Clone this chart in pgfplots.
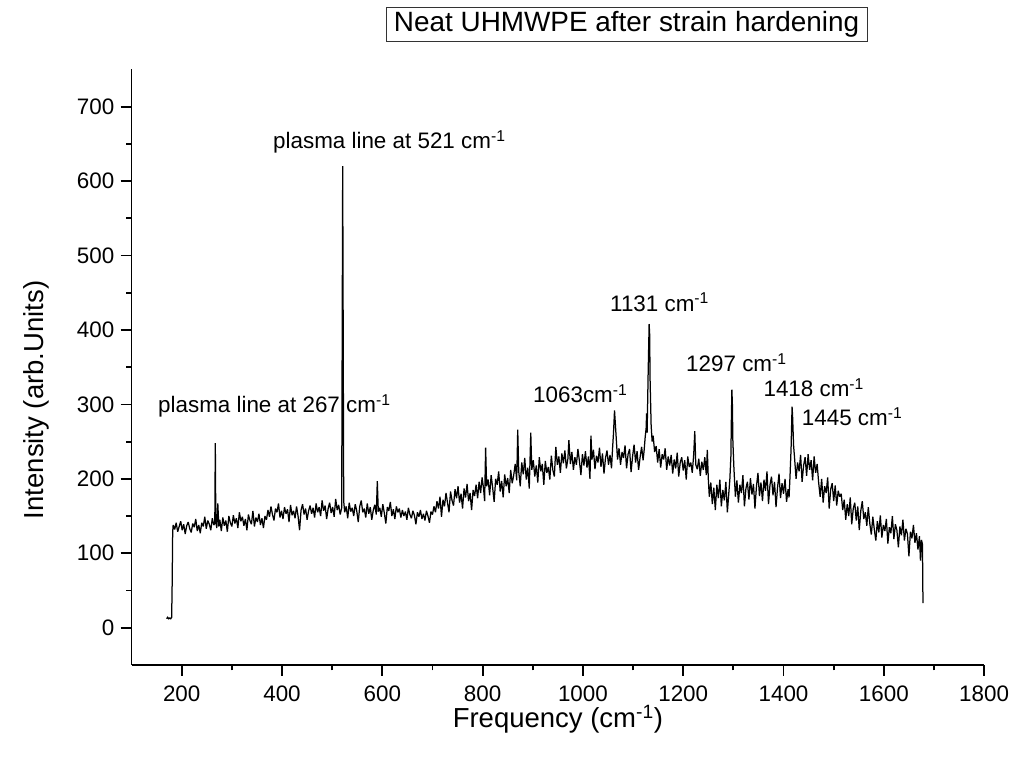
\documentclass[border=0pt]{standalone}
\usepackage{pgfplots}
\pgfplotsset{compat=1.18}
\usepackage{fontspec}
\setmainfont{Liberation Sans}
\begin{document}
\begin{tikzpicture}
\begin{axis}[
  at={(0,0)}, anchor=south west,
  scale only axis, width=852.6bp, height=595.4bp,
  xmin=100, xmax=1800, ymin=-50, ymax=750,
  axis x line*=bottom, axis y line*=left,
  axis line style={-, line width=1.8bp},
  xtick={200,400,...,1800}, ytick={0,100,...,700},
  minor x tick num=1, minor y tick num=1,
  tick align=outside,
  major tick length=11bp, minor tick length=5.5bp,
  every tick/.style={black, line width=1.8bp},
  /pgf/number format/assume math mode=true,
  /pgf/number format/1000 sep={},
  ticklabel style={font=\fontsize{22.4bp}{25bp}\selectfont, inner sep=0pt},
  xticklabel style={anchor=base, yshift=-25.8bp},
  yticklabel style={anchor=east, xshift=-6bp},
  xlabel={Frequency (cm\textsuperscript{-1})},
  ylabel={Intensity (arb.Units)},
  label style={font=\fontsize{27.5bp}{30bp}\selectfont, inner sep=0pt},
  xlabel style={at={([yshift=-63bp]axis description cs:0.5,0)}, anchor=base},
  ylabel style={at={([xshift=-88.5bp]axis description cs:0,0.445)}, anchor=base},
  clip=false,
]
\addplot[black, line width=1.25bp, line join=miter, miter limit=2] table[row sep=\\] {
x y\\
170 12\\ 172 14\\ 174 12\\ 176 13\\ 178 12\\ 180 14\\ 181 60\\ 182 128\\
183 138\\ 186 132\\ 189 141\\ 192 129\\ 195 136\\ 198 143\\ 201 131\\ 204 139\\ 207 126\\ 210 137\\
213 142\\ 216 133\\ 219 128\\ 222 140\\ 225 135\\ 228 146\\ 231 130\\ 234 138\\ 237 127\\ 240 141\\
243 136\\ 246 149\\ 249 133\\ 252 144\\ 255 139\\ 258 131\\ 261 147\\ 264 138\\ 266 140\\ 267 248\\
268 142\\ 270 134\\ 272 167\\ 274 136\\ 276 145\\ 279 130\\ 282 148\\ 285 137\\ 288 144\\ 291 129\\
294 150\\ 297 141\\ 300 136\\ 303 151\\ 306 140\\ 309 147\\ 312 134\\ 315 155\\ 318 143\\ 321 149\\
324 137\\ 327 146\\ 330 131\\ 333 152\\ 336 144\\ 339 139\\ 342 157\\ 345 136\\ 348 148\\ 351 142\\
354 153\\ 357 138\\ 360 147\\ 363 134\\ 366 150\\ 369 145\\ 372 158\\ 375 149\\ 378 163\\ 381 152\\
384 144\\ 387 160\\ 390 155\\ 393 167\\ 396 148\\ 399 157\\ 402 146\\ 405 162\\ 408 153\\ 411 159\\
414 142\\ 417 165\\ 420 151\\ 423 157\\ 426 147\\ 429 163\\ 432 150\\ 435 131\\ 438 158\\ 441 166\\
444 152\\ 447 160\\ 450 145\\ 453 157\\ 456 164\\ 459 153\\ 462 161\\ 465 148\\ 468 167\\ 471 155\\
474 162\\ 477 150\\ 480 171\\ 483 157\\ 486 164\\ 489 146\\ 492 160\\ 495 168\\ 498 154\\ 501 162\\
504 149\\ 507 173\\ 510 158\\ 513 165\\ 516 152\\ 519 161\\ 521 620\\ 523 170\\ 525 155\\ 528 163\\
531 147\\ 534 168\\ 537 156\\ 540 161\\ 543 150\\ 546 166\\ 549 157\\ 552 142\\ 555 163\\ 558 171\\
561 155\\ 564 160\\ 567 148\\ 570 167\\ 573 153\\ 576 162\\ 579 145\\ 582 158\\ 585 165\\ 588 152\\
590 197\\ 592 156\\ 595 161\\ 598 149\\ 601 166\\ 604 154\\ 607 140\\ 610 162\\ 613 157\\ 616 169\\
619 150\\ 622 159\\ 625 146\\ 628 163\\ 631 155\\ 634 160\\ 637 148\\ 640 158\\ 643 150\\ 646 156\\
649 145\\ 652 161\\ 655 152\\ 658 147\\ 661 157\\ 664 151\\ 667 139\\ 670 155\\ 673 149\\ 676 158\\
679 146\\ 682 153\\ 685 144\\ 688 157\\ 691 150\\ 694 141\\ 697 156\\ 700 152\\ 703 163\\ 706 155\\
709 170\\ 712 160\\ 715 176\\ 718 149\\ 721 172\\ 724 163\\ 727 181\\ 730 168\\ 733 155\\ 736 183\\
739 171\\ 742 164\\ 745 186\\ 748 174\\ 751 190\\ 754 168\\ 757 180\\ 760 160\\ 763 187\\ 766 175\\
769 193\\ 772 170\\ 775 181\\ 778 158\\ 781 185\\ 784 177\\ 787 192\\ 790 174\\ 793 196\\ 796 181\\
799 202\\ 802 186\\ 804 170\\ 806 242\\ 808 190\\ 811 199\\ 814 178\\ 817 205\\ 820 188\\ 823 169\\
826 200\\ 829 192\\ 832 210\\ 835 183\\ 838 197\\ 841 175\\ 844 206\\ 847 190\\ 850 201\\ 853 181\\
856 212\\ 859 194\\ 862 205\\ 865 220\\ 868 198\\ 870 266\\ 872 210\\ 875 190\\ 878 222\\ 881 206\\
884 228\\ 887 199\\ 890 215\\ 893 187\\ 896 262\\ 898 212\\ 901 225\\ 904 203\\ 907 218\\ 910 195\\
913 229\\ 916 210\\ 919 220\\ 922 192\\ 925 224\\ 928 208\\ 931 216\\ 934 199\\ 937 231\\ 940 212\\
943 203\\ 946 243\\ 949 219\\ 952 230\\ 955 208\\ 958 234\\ 961 221\\ 964 238\\ 967 214\\ 970 227\\
972 252\\ 975 220\\ 978 236\\ 981 212\\ 984 229\\ 987 219\\ 990 240\\ 993 224\\ 996 205\\ 999 233\\
1002 218\\ 1005 237\\ 1008 215\\ 1011 230\\ 1014 200\\ 1016 258\\ 1018 226\\ 1021 239\\ 1024 213\\ 1027 231\\
1030 222\\ 1033 242\\ 1036 216\\ 1039 234\\ 1042 207\\ 1045 228\\ 1048 238\\ 1051 219\\ 1054 232\\ 1057 214\\
1059 240\\ 1061 262\\ 1063 292\\ 1065 270\\ 1067 248\\ 1069 226\\ 1072 241\\ 1075 219\\ 1078 236\\ 1081 228\\
1084 245\\ 1087 214\\ 1090 233\\ 1093 240\\ 1096 209\\ 1099 230\\ 1102 246\\ 1105 222\\ 1108 237\\ 1111 212\\
1114 229\\ 1117 243\\ 1120 225\\ 1122 238\\ 1124 255\\ 1126 268\\ 1127 288\\ 1128 262\\ 1130 340\\ 1132 408\\
1133 395\\ 1134 330\\ 1136 272\\ 1138 250\\ 1140 258\\ 1143 236\\ 1146 244\\ 1149 222\\ 1152 240\\ 1155 215\\
1158 233\\ 1161 226\\ 1164 241\\ 1167 212\\ 1170 230\\ 1173 218\\ 1176 232\\ 1179 207\\ 1182 226\\ 1185 214\\
1188 235\\ 1191 203\\ 1194 222\\ 1197 229\\ 1200 211\\ 1203 225\\ 1206 199\\ 1209 230\\ 1212 216\\ 1215 222\\
1218 208\\ 1221 234\\ 1223 264\\ 1225 219\\ 1228 213\\ 1231 227\\ 1234 204\\ 1237 223\\ 1240 212\\ 1243 229\\
1246 205\\ 1248 239\\ 1250 200\\ 1252 176\\ 1255 195\\ 1258 166\\ 1261 188\\ 1264 158\\ 1267 192\\ 1270 174\\
1273 199\\ 1276 163\\ 1279 185\\ 1282 171\\ 1285 196\\ 1288 155\\ 1291 182\\ 1293 200\\ 1295 230\\ 1296 280\\
1297 320\\ 1298 300\\ 1299 250\\ 1301 215\\ 1304 176\\ 1307 198\\ 1310 168\\ 1313 192\\ 1316 181\\ 1319 205\\
1322 163\\ 1325 187\\ 1328 196\\ 1331 172\\ 1334 201\\ 1337 179\\ 1340 193\\ 1343 160\\ 1346 190\\ 1349 208\\
1352 177\\ 1355 195\\ 1358 170\\ 1361 199\\ 1364 184\\ 1367 210\\ 1370 166\\ 1373 192\\ 1376 203\\ 1379 178\\
1382 196\\ 1385 162\\ 1388 188\\ 1391 207\\ 1394 174\\ 1397 194\\ 1400 180\\ 1403 200\\ 1406 169\\ 1409 186\\
1411 175\\ 1413 205\\ 1415 240\\ 1417 297\\ 1418 285\\ 1420 245\\ 1422 228\\ 1425 200\\ 1428 222\\ 1431 210\\
1434 232\\ 1437 196\\ 1440 218\\ 1443 229\\ 1446 204\\ 1449 233\\ 1452 212\\ 1455 225\\ 1458 198\\ 1461 230\\
1464 208\\ 1467 220\\ 1470 195\\ 1473 176\\ 1476 200\\ 1479 168\\ 1482 190\\ 1485 181\\ 1488 202\\ 1491 160\\
1494 186\\ 1497 194\\ 1500 170\\ 1503 191\\ 1506 164\\ 1509 184\\ 1512 176\\ 1515 180\\ 1518 158\\ 1521 172\\
1524 145\\ 1527 166\\ 1530 150\\ 1533 175\\ 1536 139\\ 1539 160\\ 1542 168\\ 1545 144\\ 1548 163\\ 1551 131\\
1554 157\\ 1557 170\\ 1560 146\\ 1563 155\\ 1566 137\\ 1569 162\\ 1572 140\\ 1575 125\\ 1578 149\\ 1581 132\\
1584 117\\ 1587 143\\ 1590 128\\ 1593 151\\ 1596 121\\ 1599 138\\ 1602 130\\ 1605 146\\ 1608 113\\ 1611 135\\
1614 127\\ 1617 150\\ 1620 119\\ 1623 139\\ 1626 131\\ 1629 108\\ 1632 136\\ 1635 124\\ 1638 145\\ 1641 117\\
1644 133\\ 1647 126\\ 1650 96\\ 1653 129\\ 1656 120\\ 1659 138\\ 1662 114\\ 1665 127\\ 1668 105\\ 1671 123\\
1673 90\\ 1675 118\\ 1677 112\\ 1678 33\\
};
\begin{scope}[every node/.style={font=\fontsize{22.4bp}{25bp}\selectfont, inner sep=0pt, anchor=base west}]
\node at (axis cs:152.7,288.6) {plasma line at 267 cm\textsuperscript{-1}};
\node at (axis cs:382,643.4) {plasma line at 521 cm\textsuperscript{-1}};
\node at (axis cs:900.5,302.4) {1063cm\textsuperscript{-1}};
\node at (axis cs:1054,425.4) {1131 cm\textsuperscript{-1}};
\node at (axis cs:1205.6,344) {1297 cm\textsuperscript{-1}};
\node at (axis cs:1359.8,310.5) {1418 cm\textsuperscript{-1}};
\node at (axis cs:1436.2,271) {1445 cm\textsuperscript{-1}};
\end{scope}
\node[draw=black!80, line width=0.7bp, font=\fontsize{27.9bp}{30bp}\selectfont,
      minimum width=481bp, minimum height=34.4bp, inner sep=0pt, anchor=center]
      at (axis cs:1087,810.8) {Neat UHMWPE after strain hardening};
\end{axis}
\pgfresetboundingbox
\path (-131.55bp,-95.1bp) rectangle (881.45bp,664.9bp);
\end{tikzpicture}
\end{document}
